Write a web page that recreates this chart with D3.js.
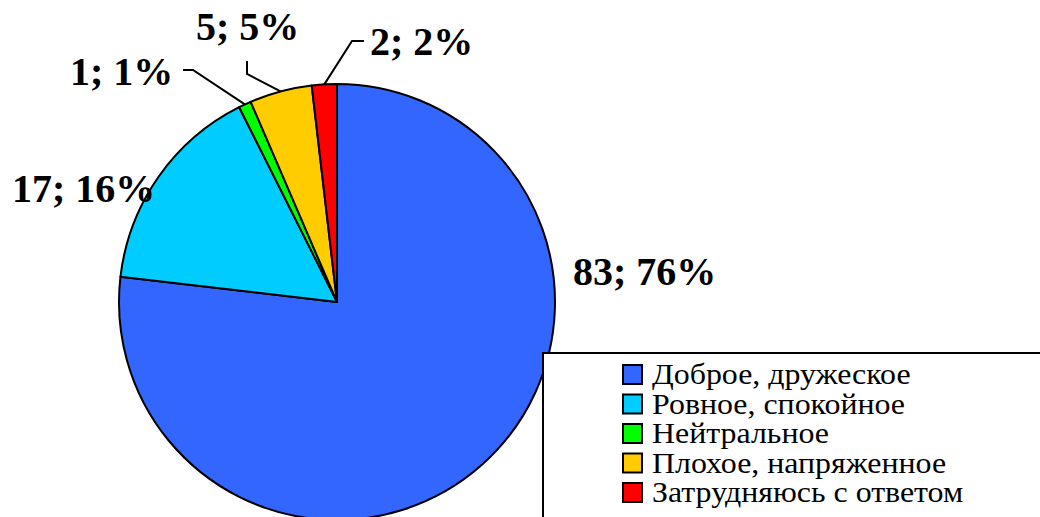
<!DOCTYPE html>
<html>
<head>
<meta charset="utf-8">
<script src="https://cdn.jsdelivr.net/npm/d3@7"></script>
<style>
    body { margin: 0; background: #fff; }
</style>
</head>
<body>
<div id="chartContainer"></div>
<script>
var width = 1040, height = 517;
var fontFamily = "'Liberation Serif'";

// data
var categories = ["Доброе, дружеское", "Ровное, спокойное", "Нейтральное", "Плохое, напряженное", "Затрудняюсь с ответом"];
var values = [83, 17, 1, 5, 2];
var percents = [76, 16, 1, 5, 2];
var colors = ["#3366FF", "#00CCFF", "#00FF00", "#FFCC00", "#FF0000"];

var cx = 337, cy = 302, radius = 218;

const svg = d3.select("#chartContainer")
    .append("svg")
    .attr("width", width)
    .attr("height", height)
    .style("display", "block");

var data = [];
for (var i = 0; i < values.length; i++) {
    data.push({ name: categories[i], value: values[i], pct: percents[i], color: colors[i] });
}

let pie = d3.pie()
    .sort(null)
    .value(function (d) { return d.value });

let arc = d3.arc()
    .innerRadius(0)
    .outerRadius(radius);

let arcs = pie(data);

let g = svg.append("g")
    .attr("transform", `translate(${cx}, ${cy})`);

g.selectAll("path")
    .data(arcs)
    .enter()
    .append("path")
    .attr("d", arc)
    .attr("fill", function (d) { return d.data.color })
    .attr("stroke", "black")
    .attr("stroke-width", 2)
    .attr("stroke-linejoin", "round");

// label placement (text anchor point + leader elbows)
var labelPos = [
    { x: 573, y: 285, leader: null },
    { x: 12, y: 202, leader: null },
    { x: 70, y: 85, leader: [[183, 70], [193, 70]] },
    { x: 196, y: 40, leader: [[247, 61], [247, 74]] },
    { x: 370, y: 55, leader: [[364, 41], [352, 41]] }
];

arcs.forEach(function (d, i) {
    let p = labelPos[i];
    if (p.leader) {
        let mid = (d.startAngle + d.endAngle) / 2;
        let end = [cx + Math.sin(mid) * radius, cy - Math.cos(mid) * radius];
        let pts = p.leader.concat([end]);
        svg.append("path")
            .attr("d", d3.line()(pts))
            .attr("fill", "none")
            .attr("stroke", "black")
            .attr("stroke-width", 2);
    }
    svg.append("text")
        .attr("x", p.x)
        .attr("y", p.y)
        .style("font-family", fontFamily)
        .style("font-size", "40px")
        .style("font-weight", "bold")
        .text(d.data.value + "; " + d.data.pct + "%");
});

// legend
let legend = svg.append("g");
legend.append("rect")
    .attr("x", 543)
    .attr("y", 353)
    .attr("width", 520)
    .attr("height", 200)
    .attr("fill", "white")
    .attr("stroke", "black")
    .attr("stroke-width", 2);

let rows = legend.selectAll("g.row")
    .data(data)
    .enter()
    .append("g")
    .attr("transform", function (d, i) { return `translate(623, ${365 + i * 29.5})` });

rows.append("rect")
    .attr("width", 19)
    .attr("height", 19)
    .attr("fill", function (d) { return d.color })
    .attr("stroke", "black")
    .attr("stroke-width", 2);

// legend font in the original is a bit wider than Liberation Serif
rows.append("text")
    .attr("transform", "translate(29, 19) scale(1.1, 1)")
    .style("font-family", fontFamily)
    .style("font-size", "29px")
    .text(function (d) { return d.name });
</script>
</body>
</html>
